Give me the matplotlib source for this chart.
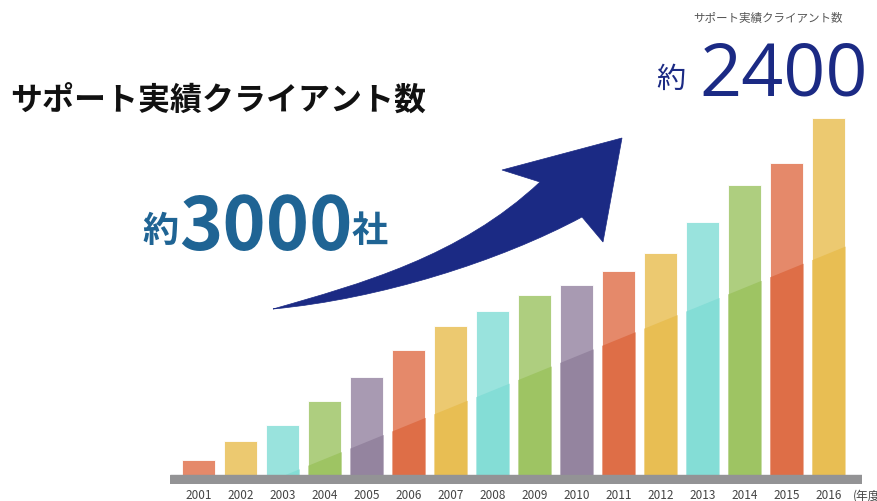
import matplotlib.pyplot as plt
import numpy as np
from matplotlib.path import Path
from matplotlib.patches import PathPatch

plt.rcParams['font.family'] = ['Noto Sans CJK JP', 'DejaVu Sans']

years = [2001, 2002, 2003, 2004, 2005, 2006, 2007, 2008,
         2009, 2010, 2011, 2012, 2013, 2014, 2015, 2016]
clients = [100, 228, 335, 496, 657, 838, 999, 1099,
           1206, 1274, 1367, 1494, 1702, 1950, 2098, 2400]
tones = ['orange', 'yellow', 'cyan', 'green', 'purple', 'orange', 'yellow', 'cyan',
         'green', 'purple', 'orange', 'yellow', 'cyan', 'green', 'orange', 'yellow']

light = {'orange': '#e5896a', 'yellow': '#ecc970', 'cyan': '#99e3dd',
         'green': '#aece7f', 'purple': '#a89ab2'}
dark = {'orange': '#de6e47', 'yellow': '#e8be53', 'cyan': '#84ddd6',
        'green': '#9ec463', 'purple': '#94849f'}

navy = '#1b2a84'
blue = '#1f6494'

fig = plt.figure(figsize=(8.78, 5.02), dpi=100)

# bar chart area
ax = fig.add_axes([170 / 878, 17 / 502, 692 / 878, 485 / 502])
ax.set_xlim(2000.32, 2016.80)
ax.set_ylim(-60, 3196)
width = 0.79

ax.bar(years, clients, width=width, color=[light[t] for t in tones],
       edgecolor='white', linewidth=0.6, zorder=2)

# darker lower part under a diagonal running across the whole chart
def split(x):
    return 67 + 115 * (x - 2003.61)

for yr, val, t in zip(years, clients, tones):
    xs = np.linspace(yr - width / 2, yr + width / 2, 60)
    top = np.clip(split(xs), 0, val)
    ax.fill_between(xs, 0, top, color=dark[t], linewidth=0, zorder=3)

ax.axhspan(-60, 0, color='#939395', zorder=4)

ax.set_xticks(years)
ax.set_xticklabels([str(y) for y in years], fontsize=8.5, color='#444444')
ax.tick_params(axis='x', length=0, pad=3)
ax.set_yticks([])
for s in ax.spines.values():
    s.set_visible(False)
ax.patch.set_alpha(0)

# overlay in pixel coordinates for texts and arrow
ov = fig.add_axes([0, 0, 1, 1])
ov.set_xlim(0, 878)
ov.set_ylim(502, 0)
ov.axis('off')
ov.patch.set_alpha(0)

ov.text(853, 496, '(年度)', fontsize=8.5, color='#444444', ha='left', va='center')

ov.text(10, 102, 'サポート実績クライアント数', fontsize=23, fontweight='bold',
        color='#111111', ha='left', va='center')

ov.text(693, 18, 'サポート実績クライアント数', fontsize=8.3, color='#555555',
        ha='left', va='center')
ov.text(656, 80, '約', fontsize=21, color=navy, ha='left', va='center')
ov.text(699, 95, '2400', fontsize=53, color=navy, ha='left', va='baseline',
        family='Open Sans')

ov.text(142, 232, '約', fontsize=26, fontweight='bold', color=blue,
        ha='left', va='center')
ov.text(179, 250, '3000', fontsize=53, fontweight='bold', color=blue,
        ha='left', va='baseline')
ov.text(352, 232, '社', fontsize=26, fontweight='bold', color=blue,
        ha='left', va='center')

# curved arrow
verts = [(273, 310), (360, 285), (460, 258), (540, 183),
         (502, 171), (622, 139), (603, 243), (582, 218),
         (500, 262), (380, 300), (273, 310)]
codes = [Path.MOVETO, Path.CURVE4, Path.CURVE4, Path.CURVE4,
         Path.LINETO, Path.LINETO, Path.LINETO, Path.LINETO,
         Path.CURVE4, Path.CURVE4, Path.CURVE4]
ov.add_patch(PathPatch(Path(verts, codes), facecolor=navy, edgecolor=navy,
                       linewidth=0.5))

fig.savefig('out.png', dpi=100)
